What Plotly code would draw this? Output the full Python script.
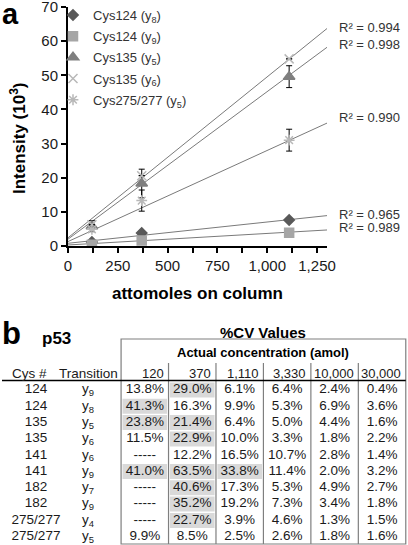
import plotly.graph_objects as go

# ---------------- Panel a data ----------------
amol = [120, 370, 1110]
series_names = ["Cys124 (y<sub>8</sub>)", "Cys124 (y<sub>9</sub>)", "Cys135 (y<sub>5</sub>)",
                "Cys135 (y<sub>6</sub>)", "Cys275/277 (y<sub>5</sub>)"]
cys124_y8 = [1.2, 3.8, 7.6]
cys124_y8_err = [0.3, 0.5, 0.5]
cys124_y9 = [0.4, 1.6, 3.9]
cys124_y9_err = [0.1, 0.3, 0.3]
cys135_y5 = [5.8, 18.3, 49.6]
cys135_y5_err = [1.6, 4.2, 3.2]
cys135_y6 = [6.2, 20.6, 54.8]
cys135_y6_err = [0.0, 0.0, 0.0]
cys275_y5 = [4.9, 13.3, 31.0]
cys275_y5_err = [0.6, 3.1, 3.2]

# linear trendlines (slope per attomole, intercept)
trend_slope = [0.00623, 0.00338, 0.04323, 0.04715, 0.02669]
trend_intercept = [0.8, 0.3, 2.0, 2.4, 1.3]
r_squared = ["0.965", "0.989", "0.998", "0.994", "0.990"]

x_ticks = [0, 125, 250, 375, 500, 625, 750, 875, 1000, 1125, 1250]
x_ticklabels = ["0", "", "250", "", "500", "", "750", "", "1,000", "", "1,250"]
y_ticks = [0, 10, 20, 30, 40, 50, 60, 70]

# ---------------- Panel b data ----------------
cys_ids = ["124", "124", "135", "135", "141", "141", "182", "182", "275/277", "275/277"]
transitions = ["y<sub>9</sub>", "y<sub>8</sub>", "y<sub>5</sub>", "y<sub>6</sub>", "y<sub>6</sub>",
               "y<sub>9</sub>", "y<sub>7</sub>", "y<sub>9</sub>", "y<sub>4</sub>", "y<sub>5</sub>"]
conc_labels = ["120", "370", "1,110", "3,330", "10,000", "30,000"]
cv_120 = [13.8, 41.3, 23.8, 11.5, None, 41.0, None, None, None, 9.9]
cv_370 = [29.0, 16.3, 21.4, 22.9, 12.2, 63.5, 40.6, 35.2, 22.7, 8.5]
cv_1110 = [6.1, 9.9, 6.4, 10.0, 16.5, 33.8, 17.3, 19.2, 3.9, 2.5]
cv_3330 = [6.4, 5.3, 5.0, 3.3, 10.7, 11.4, 5.3, 7.3, 4.6, 2.6]
cv_10000 = [2.4, 6.9, 4.4, 1.8, 2.8, 2.0, 4.9, 3.4, 1.3, 1.8]
cv_30000 = [0.4, 3.6, 1.6, 2.2, 1.4, 3.2, 2.7, 1.8, 1.5, 1.6]
cv_columns = [cv_120, cv_370, cv_1110, cv_3330, cv_10000, cv_30000]
shade_threshold = 20.0

# ---------------- styling / layout helpers ----------------
W, H = 408, 545
FONT = "Liberation Sans, Arial, sans-serif"
TXT = "#1a1a1a"


def pxx(px):
    return px / W


def pxy(py):
    return 1 - py / H


# table grid: column units (value column centers at 0..5), row units (rows at 0..9)
COL0, COLW = 144.8, 47.45
ROW0, ROWH = 390.0, 16.3


def cx(px):
    return (px - COL0) / COLW


def ry(py):
    return (py - ROW0) / ROWH


fig = go.Figure()

colors = ["#595959", "#a6a6a6", "#7f7f7f", "#b8b8b8", "#b8b8b8"]
symbols = ["diamond", "square", "triangle-up", "x-thin-open", "asterisk-open"]
sizes = [8, 9, 10, 9, 9]
values = [cys124_y8, cys124_y9, cys135_y5, cys135_y6, cys275_y5]
errors = [cys124_y8_err, cys124_y9_err, cys135_y5_err, cys135_y6_err, cys275_y5_err]
x_end = 1300

for k in range(5):
    xs = [0, x_end]
    fig.add_trace(go.Scatter(
        x=xs, y=[trend_intercept[k] + trend_slope[k] * v for v in xs],
        mode="lines", line=dict(color="#7a7a7a", width=1),
        showlegend=False, hoverinfo="skip", xaxis="x", yaxis="y"))

for k in range(5):
    fig.add_trace(go.Scatter(
        x=amol, y=values[k], mode="markers", name=series_names[k], legendgroup=f"g{k}",
        marker=dict(symbol=symbols[k], size=sizes[k], color=colors[k],
                    line=dict(color=colors[k], width=1.5)),
        error_y=dict(type="data", array=errors[k], visible=True,
                     color="#000000", thickness=1, width=3),
        xaxis="x", yaxis="y"))

annotations = []
label_offsets = [0.4, 0.6, 0.7, 0.4, 1.6]
for k in range(5):
    yend = trend_intercept[k] + trend_slope[k] * x_end
    annotations.append(dict(
        x=pxx(337), xref="paper", y=yend + label_offsets[k], yref="y",
        text=f"R² = {r_squared[k]}", showarrow=False, xanchor="left", yanchor="middle",
        font=dict(family=FONT, size=13, color="#333333")))

annotations += [
    dict(x=pxx(0), y=pxy(14), xref="paper", yref="paper", text="<b>a</b>", showarrow=False,
         xanchor="left", yanchor="middle", font=dict(family=FONT, size=29, color="#000")),
    dict(x=pxx(18), y=pxy(138), xref="paper", yref="paper", text="<b>Intensity (10<sup>3</sup>)</b>",
         showarrow=False, textangle=-90, xanchor="center", yanchor="middle",
         font=dict(family=FONT, size=17, color="#000")),
    dict(x=pxx(197.5), y=pxy(293), xref="paper", yref="paper", text="<b>attomoles on column</b>",
         showarrow=False, xanchor="center", yanchor="middle",
         font=dict(family=FONT, size=17, color="#000")),
    dict(x=pxx(0), y=pxy(333), xref="paper", yref="paper", text="<b>b</b>", showarrow=False,
         xanchor="left", yanchor="middle", font=dict(family=FONT, size=31, color="#000")),
    dict(x=pxx(40), y=pxy(338), xref="paper", yref="paper", text="<b>p53</b>", showarrow=False,
         xanchor="left", yanchor="middle", font=dict(family=FONT, size=17, color="#000")),
    dict(x=cx(263.4), y=ry(332), xref="x2", yref="y2", text="<b>%CV Values</b>", showarrow=False,
         xanchor="center", yanchor="middle", font=dict(family=FONT, size=15, color="#000")),
    dict(x=cx(263.4), y=ry(352), xref="x2", yref="y2", text="<b>Actual concentration (amol)</b>",
         showarrow=False, xanchor="center", yanchor="middle",
         font=dict(family=FONT, size=13, color="#000")),
    dict(x=cx(29), y=ry(373), xref="x2", yref="y2", text="Cys #", showarrow=False,
         xanchor="center", yanchor="middle", font=dict(family=FONT, size=13.5, color=TXT)),
    dict(x=cx(88), y=ry(373), xref="x2", yref="y2", text="Transition", showarrow=False,
         xanchor="center", yanchor="middle", font=dict(family=FONT, size=13.5, color=TXT)),
]
for c, lab in enumerate(conc_labels):
    annotations.append(dict(
        x=c + 0.5 - 2.5 / COLW, y=ry(373), xref="x2", yref="y2", text=lab, showarrow=False,
        xanchor="right", yanchor="middle", font=dict(family=FONT, size=13, color=TXT)))

rows = list(range(len(cys_ids)))
fig.add_trace(go.Scatter(x=[cx(36)] * len(rows), y=rows, text=cys_ids, mode="text",
                         textposition="middle center", showlegend=False, hoverinfo="skip",
                         textfont=dict(family=FONT, size=13.5, color=TXT), xaxis="x2", yaxis="y2"))
fig.add_trace(go.Scatter(x=[cx(88)] * len(rows), y=rows, text=transitions, mode="text",
                         textposition="middle center", showlegend=False, hoverinfo="skip",
                         textfont=dict(family=FONT, size=13.5, color=TXT), xaxis="x2", yaxis="y2"))

shapes = []
for c, col in enumerate(cv_columns):
    txt = [("-----" if v is None else f"{v:.1f}%") for v in col]
    fig.add_trace(go.Scatter(x=[c] * len(rows), y=rows, text=txt, mode="text",
                             textposition="middle center", showlegend=False, hoverinfo="skip",
                             textfont=dict(family=FONT, size=13.5, color=TXT),
                             xaxis="x2", yaxis="y2"))
    for r, v in enumerate(col):
        if v is not None and v > shade_threshold:
            shapes.append(dict(type="rect", xref="x2", yref="y2",
                               x0=c - 0.5 + 0.03, x1=c + 0.5 - 0.03, y0=r - 0.46, y1=r + 0.46,
                               fillcolor="#d9d9d9", line=dict(width=0), layer="below"))

grid_color = "#7f7f7f"
box_top, box_bot = ry(339), ry(544)
inner_top = ry(363)
shapes.append(dict(type="rect", xref="x2", yref="y2", x0=-0.5, x1=5.5, y0=box_top, y1=box_bot,
                   line=dict(color=grid_color, width=1.2), fillcolor="rgba(0,0,0,0)"))
for c in range(1, 6):
    shapes.append(dict(type="line", xref="x2", yref="y2", x0=c - 0.5, x1=c - 0.5,
                       y0=inner_top, y1=box_bot, line=dict(color=grid_color, width=1.2)))
shapes.append(dict(type="line", xref="x2", yref="y2", x0=cx(2), x1=5.5, y0=ry(380.5), y1=ry(380.5),
                   line=dict(color="#000000", width=1.5)))

fig.update_layout(
    width=W, height=H, margin=dict(l=0, r=0, t=0, b=0, autoexpand=False),
    paper_bgcolor="white", plot_bgcolor="white",
    font=dict(family=FONT, color=TXT),
    showlegend=True,
    legend=dict(x=pxx(53), y=pxy(0), xanchor="left", yanchor="top", bgcolor="rgba(0,0,0,0)",
                font=dict(family=FONT, size=13, color="#333333"), traceorder="grouped",
                tracegroupgap=1.3, itemwidth=30),
    xaxis=dict(domain=[pxx(68), pxx(327)], range=[0, x_end], anchor="y", automargin=False,
               tickvals=x_ticks, ticktext=x_ticklabels, ticks="outside", ticklen=5, tickwidth=1.5,
               tickcolor="#000", showline=True, linecolor="#000", linewidth=2, showgrid=False,
               zeroline=False, ticklabeloverflow="allow",
               tickfont=dict(family=FONT, size=15, color=TXT)),
    yaxis=dict(domain=[pxy(246), pxy(7)], range=[0, 70], anchor="x", automargin=False,
               tickvals=y_ticks, ticks="outside", ticklen=5, tickwidth=1.5,
               tickcolor="#000", showline=True, linecolor="#000", linewidth=2, showgrid=False,
               zeroline=False, ticklabeloverflow="allow",
               tickfont=dict(family=FONT, size=15, color=TXT)),
    xaxis2=dict(domain=[0, 1], range=[cx(0), cx(W)], anchor="y2", visible=False, automargin=False),
    yaxis2=dict(domain=[0, pxy(300)], range=[ry(H), ry(300)], anchor="x2", visible=False,
                automargin=False),
    annotations=annotations,
    shapes=shapes,
)

fig.write_html("out.html", config={"displayModeBar": False},
               post_script="document.body.style.margin='0';document.body.style.padding='0';")
